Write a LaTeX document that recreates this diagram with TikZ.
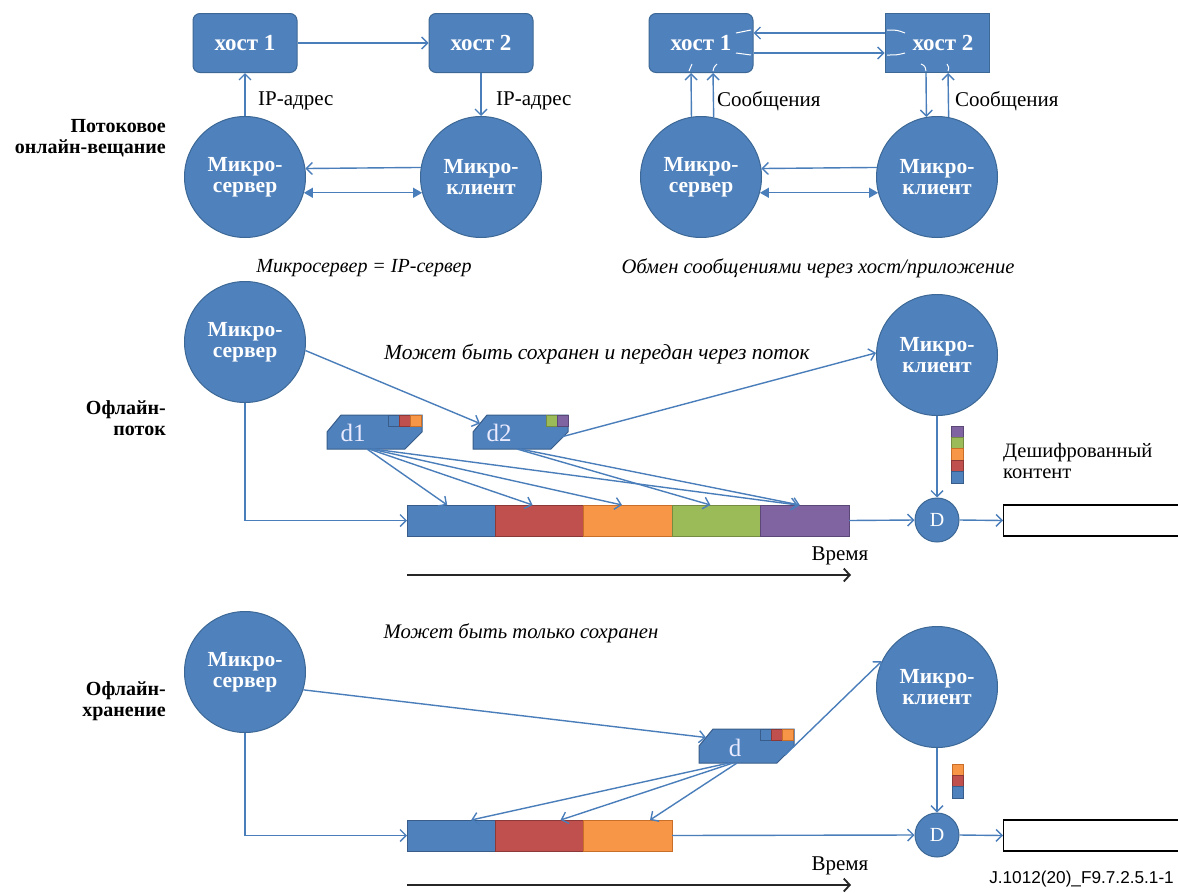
\documentclass[tikz,border=0pt]{standalone}
\usepackage{fontspec}
\setmainfont{Liberation Serif}
\newfontfamily\labelsans{Liberation Sans}
\usetikzlibrary{arrows.meta,calc}

\definecolor{nodeblue}{RGB}{79,129,189}
\definecolor{nodeedge}{RGB}{60,104,150}
\definecolor{wireblue}{RGB}{74,126,187}
\definecolor{segblue}{RGB}{79,129,189}
\definecolor{segblueD}{RGB}{56,93,138}
\definecolor{segred}{RGB}{192,80,77}
\definecolor{segredD}{RGB}{140,56,54}
\definecolor{segorange}{RGB}{247,150,70}
\definecolor{segorangeD}{RGB}{200,110,40}
\definecolor{seggreen}{RGB}{155,187,89}
\definecolor{seggreenD}{RGB}{115,140,65}
\definecolor{segpurple}{RGB}{128,100,162}
\definecolor{segpurpleD}{RGB}{92,72,118}

% chamfered key shape centred on #1, with the small colour tabs given in #2
\newcommand\keyshape[2]{%
  \begin{scope}[shift={#1}]
    \filldraw[fill=nodeblue,draw=segblueD,line width=1pt]
      (-34,-17) -- (47,-17) -- (47,0) -- (30,17) -- (-48,17) -- (-48,0) -- cycle;
    #2
  \end{scope}}
\newcommand\tab[3]{\filldraw[fill=#2,draw=#3,line width=0.8pt] (#1,-17) rectangle ++(11,11);}

\begin{document}
\begin{tikzpicture}[x=1pt,y=-1pt,
  wire/.style={draw=wireblue,line width=1.4pt,-{Straight Barb[length=6pt,width=12pt]}},
  twoway/.style={draw=wireblue,line width=1.4pt,{Triangle[length=9pt,width=10pt]}-{Triangle[length=9pt,width=10pt]}},
  timeline/.style={draw=black!85,line width=1.8pt,-{Straight Barb[length=6pt,width=13pt]}},
  glint/.style={draw=white,line width=1pt},
  mcircle/.style={circle,fill=nodeblue,draw=nodeedge,line width=1pt,minimum size=121pt,
    inner sep=0pt,align=center,text=white,font=\fontsize{21.5}{21.5}\selectfont\bfseries},
  hostbox/.style={rectangle,rounded corners=7pt,fill=nodeblue,draw=nodeedge,line width=1pt,
    minimum width=104pt,minimum height=59pt,inner sep=0pt,text=white,
    font=\fontsize{23}{23}\selectfont\bfseries},
  sqhostbox/.style={hostbox,rounded corners=0pt},
  dnode/.style={circle,fill=nodeblue,draw=nodeedge,line width=1pt,minimum size=44pt,
    inner sep=0pt,text=white,font=\fontsize{20}{20}\selectfont},
  keytext/.style={text=white!92!blue,font=\fontsize{25}{25}\selectfont,inner sep=0pt},
  seg/.style={rectangle,minimum width=88.4pt,minimum height=31pt,inner sep=0pt,outer sep=0pt,line width=1pt},
  outbox/.style={rectangle,draw=black,line width=1.2pt,fill=white,minimum width=185pt,
    minimum height=31pt,inner sep=0pt,anchor=west},
  plain/.style={font=\fontsize{21}{22}\selectfont,inner sep=0pt},
  caption/.style={font=\fontsize{20}{22}\selectfont\itshape,inner sep=0pt},
  rowlabel/.style={font=\fontsize{20}{21.5}\selectfont\bfseries,align=right,anchor=east,inner sep=0pt},
]
\useasboundingbox[fill=white] (0,0) rectangle (1178,892);

% ---------- row labels ----------
\node[rowlabel] (r1) at (166,138) {Потоковое\\онлайн-вещание};
\node[rowlabel] (r2) at (166,418) {Офлайн-\\поток};
\node[rowlabel] (r3) at (166,701) {Офлайн-\\хранение};

% ---------- streaming, IP server ----------
\node[hostbox] (h1) at (245,43) {хост 1};
\node[hostbox] (h2) at (481,43) {хост 2};
\node[mcircle] (s1) at (245,177) {Микро-\\сервер};
\node[mcircle] (c1) at (481,177) {Микро-\\клиент};
\draw[wire] (h1.east) -- (h2.west);
\draw[wire] (s1.north) -- (h1.south);
\draw[wire] (h2.south) -- (c1.north);
\draw[wire] (c1.171.5) -- (s1.8.5);
\draw[twoway] (s1.-15.2) -- (c1.195.2);
\node[plain,anchor=west] (ip1) at (258,101) {IP-адрес};
\node[plain,anchor=west] (ip2) at (496,101) {IP-адрес};
\node[caption] (cap1) at (364,268) {Микросервер = IP-сервер};

% ---------- streaming, messages via host ----------
\node[hostbox] (h3) at (701,43) {хост 1};
\node[sqhostbox] (h4) at (937,43) {\hspace*{12pt}хост 2};
\node[mcircle] (s3) at (701,177) {Микро-\\сервер};
\node[mcircle] (c3) at (937,177) {Микро-\\клиент};
\draw[wire] ($(h4.west)+(0,-10)$) -- ($(h3.east)+(0,-10)$);
\draw[wire] ($(h3.east)+(0,10)$) -- ($(h4.west)+(0,10)$);
\draw[wire] (s3.99.4) -- ($(h3.south)+(-10,0)$);
\draw[wire] (s3.78.7) -- ($(h3.south)+(12,0)$);
\draw[wire] ($(h4.south)+(-11,0)$) -- (c3.100.4);
\draw[wire] (c3.79.6) -- ($(h4.south)+(11,0)$);
\draw[wire] (c3.171.5) -- (s3.8.5);
\draw[twoway] (s3.-15.2) -- (c3.195.2);
% white strokes where the links run into the hosts
\draw[glint] (736,33) .. controls (744,31) .. (751,30);
\draw[glint] (736,53) .. controls (744,54) .. (751,55);
\draw[glint] (689,71) .. controls (690,67) .. (692,64);
\draw[glint] (713,71) .. controls (714,67) .. (717,64);
\draw[glint] (887,30) .. controls (897,30) .. (905,33);
\draw[glint] (887,55) .. controls (897,55) .. (905,53);
\draw[glint] (921,64) .. controls (925,66) .. (926,71);
\draw[glint] (947,64) .. controls (949,67) .. (948,71);
\node[plain,anchor=west] (msg1) at (717,101) {Сообщения};
\node[plain,anchor=west] (msg2) at (955,101) {Сообщения};
\node[caption,font=\fontsize{20.6}{22}\selectfont\itshape] (cap2) at (818,268) {Обмен сообщениями через хост/приложение};

% ---------- offline stream ----------
\node[mcircle] (s2) at (245,342) {Микро-\\сервер};
\node[mcircle] (c2) at (937,355) {Микро-\\клиент};
\node[caption,font=\fontsize{21.5}{22}\selectfont\itshape] (cap3) at (597,354) {Может быть сохранен и передан через поток};
\keyshape{(375,432)}{\tab{13}{segblue}{segblueD}\tab{24}{segred}{segredD}\tab{35}{segorange}{segorangeD}}
\node[keytext] (d1) at (375,432) {\phantom{d1}};
\node[keytext] (d1t) at (353,433) {d1};
\keyshape{(521,432)}{\tab{25}{seggreen}{seggreenD}\tab{36}{segpurple}{segpurpleD}}
\node[keytext] (d2) at (521,432) {\phantom{d2}};
\node[keytext] (d2t) at (499,433) {d2};

\node[seg,fill=segblue,draw=segblueD] (m1) at (451.2,520.5) {};
\node[seg,fill=segred,draw=segredD] (m2) at (539.6,520.5) {};
\node[seg,fill=segorange,draw=segorangeD] (m3) at (628.0,520.5) {};
\node[seg,fill=seggreen,draw=seggreenD] (m4) at (716.4,520.5) {};
\node[seg,fill=segpurple,draw=segpurpleD] (m5) at (804.8,520.5) {};
\node[dnode] (D1) at (937,520) {D};
\node[outbox] (o1) at (1003,520.5) {};
\node[plain,anchor=north west,align=left,font=\fontsize{20.5}{21}\selectfont] (dec) at (1003,443) {Дешифрованный\\контент};

\draw[wire] (s2.-8) -- ($(d2.center)+(-41,-8.5)$);
\draw[wire] ($(d2.center)+(40,5)$) -- (c2.178);
\draw[wire] ($(d1.center)+(-8,17)$) -- ($(m1.north)+(-4,0)$);
\draw[wire] ($(d1.center)+(-6,17)$) -- ($(m2.north)+(-7,0)$);
\draw[wire] ($(d1.center)+(-4,17)$) -- ($(m3.north)+(-6,0)$);
\draw[wire] ($(d1.center)+(-2,17)$) -- ($(m5.north)+(-7,0)$);
\draw[wire] ($(d2.center)+(-4,17)$) -- ($(m4.north)+(-6,0)$);
\draw[wire] ($(d2.center)+(-1,17)$) -- ($(m5.north)+(-5,0)$);
\draw[wire] (s2.south) |- (m1.west);
\draw[wire] (m5.east) -- (D1.west);
\draw[wire] (c2.south) -- (D1.north);
\draw[wire] (D1.east) -- (o1.west);

% key stream beside the client-to-D link
\begin{scope}[line width=0.8pt]
  \filldraw[fill=segpurple,draw=segpurpleD] (951,426) rectangle (963,437.4);
  \filldraw[fill=seggreen,draw=seggreenD] (951,437.4) rectangle (963,448.8);
  \filldraw[fill=segorange,draw=segorangeD] (951,448.8) rectangle (963,460.2);
  \filldraw[fill=segred,draw=segredD] (951,460.2) rectangle (963,471.6);
  \filldraw[fill=segblue,draw=segblueD] (951,471.6) rectangle (963,483);
\end{scope}

\coordinate (t1a) at (407,575);
\coordinate (t1b) at (851,575);
\draw[timeline] (t1a) -- (t1b);
\node[plain] (time1) at (840,556) {Время};

% ---------- offline storage ----------
\node[mcircle] (s4) at (245,672) {Микро-\\сервер};
\node[mcircle] (c4) at (937,687) {Микро-\\клиент};
\node[caption,font=\fontsize{20.7}{22}\selectfont\itshape] (cap4) at (521,633) {Может быть только сохранен};
\keyshape{(747,746)}{\tab{13}{segblue}{segblueD}\tab{24}{segred}{segredD}\tab{35}{segorange}{segorangeD}}
\node[keytext] (d3) at (747,746) {\phantom{d}};
\node[keytext] (d3t) at (735,748) {d};

\node[seg,fill=segblue,draw=segblueD] (n1) at (451.2,835.5) {};
\node[seg,fill=segred,draw=segredD] (n2) at (539.6,835.5) {};
\node[seg,fill=segorange,draw=segorangeD] (n3) at (628.0,835.5) {};
\node[dnode] (D2) at (937,835) {D};
\node[outbox] (o2) at (1003,835.5) {};

\draw[wire] (s4.-17) -- ($(d3.center)+(-41,-8.5)$);
\draw[wire] ($(d3.center)+(38,9)$) -- (c4.155);
\draw[wire] ($(d3.center)+(-18,17)$) -- ($(n1.north)+(20,0)$);
\draw[wire] ($(d3.center)+(-14,17)$) -- ($(n2.north)+(21,0)$);
\draw[wire] ($(d3.center)+(-10,17)$) -- ($(n3.north)+(22,0)$);
\draw[wire] (s4.south) |- (n1.west);
\draw[wire] (n3.east) -- (D2.west);
\draw[wire] (c4.south) -- (D2.north);
\draw[wire] (D2.east) -- (o2.west);

\begin{scope}[line width=0.8pt]
  \filldraw[fill=segorange,draw=segorangeD] (952,764) rectangle (963,775.3);
  \filldraw[fill=segred,draw=segredD] (952,775.3) rectangle (963,786.6);
  \filldraw[fill=segblue,draw=segblueD] (952,786.6) rectangle (963,798);
\end{scope}

\coordinate (t2a) at (407,885);
\coordinate (t2b) at (851,885);
\draw[timeline] (t2a) -- (t2b);
\node[plain] (time2) at (840,866) {Время};

\node[font=\labelsans\fontsize{17.2}{17}\selectfont,anchor=east,inner sep=0pt] (fig) at (1174,879) {J.1012(20)\_F9.7.2.5.1-1};
\end{tikzpicture}
\end{document}
